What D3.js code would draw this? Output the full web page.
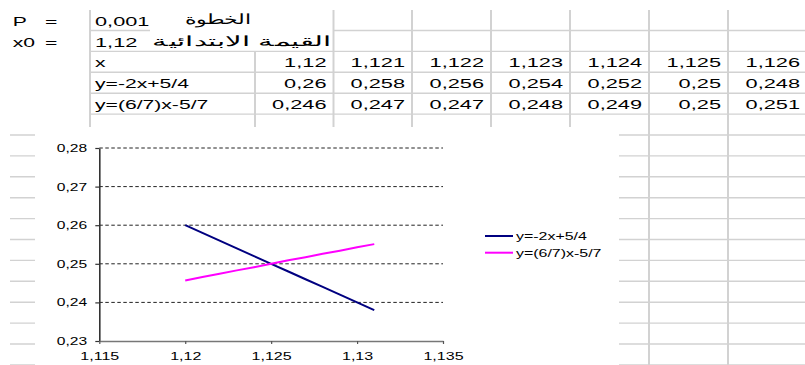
<!DOCTYPE html>
<html>
<head>
<meta charset="utf-8">
<script src="https://cdn.jsdelivr.net/npm/d3@7"></script>
<style>
  html, body { margin: 0; padding: 0; background: #fff; }
  svg { display: block; }
  text { font-family: "Liberation Sans", Arial, sans-serif; fill: #000; }
</style>
</head>
<body>
<svg id="sheet" width="805" height="365"></svg>
<script>
// Worksheet values
const stepValue = 0.001;            // P
const startValue = 1.12;            // x0
const stepLabel = "الخطوة";
const startLabel = "القيمة الابتدائية";

const xValues = [1.12, 1.121, 1.122, 1.123, 1.124, 1.125, 1.126, 1.127, 1.128, 1.129, 1.13, 1.131];
const seriesNames = ["y=-2x+5/4", "y=(6/7)x-5/7"];
const lineA = [0.26, 0.258, 0.256, 0.254, 0.252, 0.25, 0.248, 0.246, 0.244, 0.242, 0.24, 0.238];
const lineB = [0.2457, 0.2466, 0.2474, 0.2483, 0.2491, 0.25, 0.2509, 0.2517, 0.2526, 0.2534, 0.2543, 0.2551];
const seriesColors = ["#000080", "#ff00ff"];

const xTicks = [1.115, 1.12, 1.125, 1.13, 1.135];
const yTicks = [0.23, 0.24, 0.25, 0.26, 0.27, 0.28];
const visibleColumns = 7;

// Decimal comma, trailing zeros dropped
const fmt = v => d3.format(".3~f")(v).replace(".", ",");

const svg = d3.select("#sheet");
svg.append("rect").attr("width", 805).attr("height", 365).attr("fill", "#fff");

// ---- spreadsheet grid ----
const gridColor = "#d2d2d2";
const rowTop = 9.6, rowH = 20.9;
const colEdges = [90, 255, 333.5, 412, 491, 570, 649, 728, 807];
const grid = svg.append("g");

function hLine(y, x1, x2) {
  grid.append("line").attr("x1", x1).attr("x2", x2).attr("y1", y).attr("y2", y)
    .attr("stroke", gridColor).attr("stroke-width", 1.4);
}
function vLine(x, y1, y2) {
  grid.append("line").attr("x1", x).attr("x2", x).attr("y1", y1).attr("y2", y2)
    .attr("stroke", gridColor).attr("stroke-width", 2);
}
for (let k = 1; k <= 17; k++) {
  const y = rowTop + k * rowH;
  if (k === 1) { hLine(y, 90, 150); hLine(y, 333.5, 805); }
  else if (k <= 5) hLine(y, 90, 805);
  else hLine(y, 10, 805);
}
vLine(90, 10, 127);
vLine(255, rowTop + 2 * rowH, 127);
[333.5, 412, 491, 570].forEach(x => vLine(x, 10, 127));
[649, 728].forEach(x => vLine(x, 10, 365));

// ---- cell text ----
const cells = svg.append("g");
function cellText(x, y, str, anchor, sx) {
  return cells.append("text")
    .attr("transform", `translate(${x},${y}) scale(${sx || 1.6},1)`)
    .attr("text-anchor", anchor || "start")
    .attr("font-size", 13.2)
    .text(str);
}
const base = k => rowTop + k * rowH + 16;   // baseline of row k (0-based)

cellText(12.7, base(0), "P");
cellText(45, base(0), "=");
cellText(95, base(0), fmt(stepValue), "start", 1.65);
cellText(12.7, base(1), "x0");
cellText(45, base(1), "=");
cellText(95, base(1), fmt(startValue), "start", 1.65);

cells.append("text").attr("x", 185).attr("y", base(0) - 2)
  .attr("font-family", "DejaVu Sans").attr("font-size", 13.5)
  .attr("textLength", 66).attr("lengthAdjust", "spacingAndGlyphs").text(stepLabel);
cells.append("text").attr("x", 152).attr("y", base(1) - 1)
  .attr("font-family", "DejaVu Sans").attr("font-size", 13.5)
  .attr("textLength", 179).attr("lengthAdjust", "spacingAndGlyphs").text(startLabel);

const rowsData = [["x", xValues], [seriesNames[0], lineA], [seriesNames[1], lineB]];
rowsData.forEach(([label, vals], i) => {
  cellText(95, base(2 + i), label);
  vals.slice(0, visibleColumns).forEach((v, j) => {
    cellText(colEdges[j + 2] - 7, base(2 + i), fmt(v), "end", 1.65);
  });
});

// ---- embedded chart ----
const chart = svg.append("g");
chart.append("rect").attr("x", 35).attr("y", 127).attr("width", 584).attr("height", 240).attr("fill", "#fff");

const x = d3.scaleLinear().domain([1.115, 1.135]).range([99.3, 443]);
const y = d3.scaleLinear().domain([0.23, 0.28]).range([341, 148]);

// dashed horizontal gridlines
chart.append("g").selectAll("line").data(yTicks.slice(1)).join("line")
  .attr("x1", x(1.115)).attr("x2", x(1.135))
  .attr("y1", d => y(d)).attr("y2", d => y(d))
  .attr("stroke", "#222").attr("stroke-width", 1).attr("stroke-dasharray", "3.5,2.5");

const ASX = 1.42;
const yAxis = chart.append("g").attr("transform", `translate(${x(1.115)},0)`)
  .call(d3.axisLeft(y).tickValues(yTicks).tickFormat(fmt).tickSize(4).tickSizeOuter(0).tickPadding(4.6));
yAxis.select(".domain").attr("stroke", "#333").attr("stroke-width", 1.6);
yAxis.selectAll(".tick line").attr("stroke", "#333").attr("stroke-width", 1.2);
yAxis.selectAll(".tick text").attr("font-family", "'Liberation Sans', Arial, sans-serif")
  .attr("font-size", 11).attr("fill", "#222").attr("transform", `scale(${ASX},1)`);

const xAxis = chart.append("g").attr("transform", `translate(0,${y(0.23)})`)
  .call(d3.axisBottom(x).tickValues(xTicks).tickFormat(fmt).tickSize(3).tickSizeOuter(0).tickPadding(8));
xAxis.select(".domain").attr("stroke", "#777").attr("stroke-width", 1.3);
xAxis.selectAll(".tick line").attr("stroke", "#555").attr("stroke-width", 1.2);
xAxis.selectAll(".tick text").attr("font-family", "'Liberation Sans', Arial, sans-serif")
  .attr("font-size", 11.3).attr("fill", "#222").attr("transform", `scale(${ASX},1)`);

// series lines
const line = d3.line().x((d, i) => x(xValues[i])).y(d => y(d));
[lineA, lineB].forEach((vals, i) => {
  chart.append("path").datum(vals).attr("d", line)
    .attr("fill", "none").attr("stroke", seriesColors[i]).attr("stroke-width", 2);
});

// legend
const legend = chart.append("g").attr("transform", "translate(485,236)");
seriesNames.forEach((name, i) => {
  const g = legend.append("g").attr("transform", `translate(0,${i * 16.7})`);
  g.append("line").attr("x1", 0).attr("x2", 28).attr("stroke", seriesColors[i]).attr("stroke-width", 2);
  g.append("text").attr("transform", "translate(31,4) scale(1.45,1)")
    .attr("font-size", 11).attr("fill", "#111").text(name);
});
</script>
</body>
</html>
